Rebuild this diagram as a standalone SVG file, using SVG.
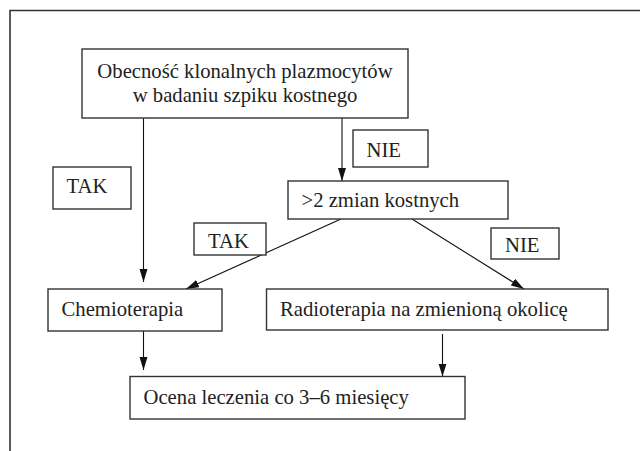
<svg xmlns="http://www.w3.org/2000/svg" width="640" height="451" viewBox="0 0 640 451">
<style>
.box{fill:#fff;stroke:#333;stroke-width:1.4}
text{font-family:'Liberation Serif','Times New Roman',Times,'DejaVu Serif',serif;font-size:20.7px;fill:#222}
.c{text-anchor:middle}
.ln{stroke:#111;stroke-width:1.1;fill:none}
.frame{stroke:#333;stroke-width:1.6;fill:none}
</style>
<defs>
<marker id="ah" markerUnits="userSpaceOnUse" markerWidth="14" markerHeight="9" refX="13" refY="4" orient="auto">
<path d="M0,0 L13,4 L0,8 z" fill="#111"/>
</marker>
</defs>
<rect width="640" height="451" fill="#fff"/>
<path class="frame" d="M10,451 V10.5 H640"/>
<g id="connectors">
<line class="ln" x1="143.5" y1="118" x2="143.5" y2="282" marker-end="url(#ah)"/>
<line class="ln" x1="342" y1="118" x2="342" y2="181" marker-end="url(#ah)"/>
<line class="ln" x1="341" y1="219" x2="186" y2="289" marker-end="url(#ah)"/>
<line class="ln" x1="412" y1="219" x2="524" y2="289" marker-end="url(#ah)"/>
<line class="ln" x1="143.5" y1="331" x2="143.5" y2="370" marker-end="url(#ah)"/>
<line class="ln" x1="442.5" y1="334" x2="442.5" y2="376.5" marker-end="url(#ah)"/>
</g>
<g id="n-start">
<rect class="box" x="82" y="49" width="326" height="69"/>
<text class="c" x="245" y="78" font-family="Liberation Serif">Obecność klonalnych plazmocytów</text>
<text class="c" x="245" y="102" font-family="Liberation Serif">w badaniu szpiku kostnego</text>
</g>
<g id="l-nie1">
<rect class="box" x="353" y="130" width="75" height="37"/>
<text x="366.5" y="156.5">NIE</text>
</g>
<g id="l-tak1">
<rect class="box" x="53" y="167" width="78" height="42"/>
<text x="66.5" y="193">TAK</text>
</g>
<g id="n-zmiany">
<rect class="box" x="288" y="181" width="220" height="38"/>
<text x="301.5" y="206.5">&gt;2 zmian kostnych</text>
</g>
<g id="l-tak2">
<rect class="box" x="194" y="223" width="72" height="32"/>
<text x="208" y="248">TAK</text>
</g>
<g id="l-nie2">
<rect class="box" x="491" y="228" width="68" height="31"/>
<text x="505" y="252">NIE</text>
</g>
<g id="n-chemio">
<rect class="box" x="48" y="289" width="174" height="42"/>
<text x="61.5" y="316">Chemioterapia</text>
</g>
<g id="n-radio">
<rect class="box" x="266.5" y="289" width="341.5" height="41"/>
<text x="280" y="316">Radioterapia na zmienioną okolicę</text>
</g>
<g id="n-ocena">
<rect class="box" x="130" y="376.5" width="335" height="42.5"/>
<text x="143.5" y="404">Ocena leczenia co 3–6 miesięcy</text>
</g>
</svg>
